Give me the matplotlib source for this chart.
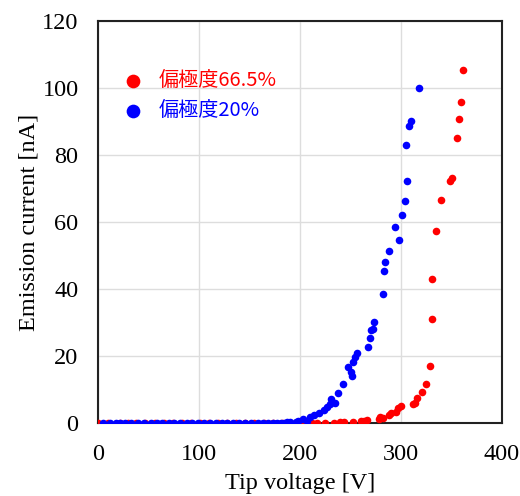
import matplotlib
matplotlib.use('Agg')
import matplotlib.pyplot as plt

# polarization 66.5% (red)
v_665 = [0, 10, 22, 30, 38, 47, 56, 65, 74, 83, 92, 101, 110, 119, 128, 137, 146, 155, 164, 173,
         182, 190, 198, 205, 212, 217, 225, 234, 240, 244, 253, 261, 263, 266, 278, 279, 282,
         288, 290, 295, 297, 300, 312, 314, 316, 321, 325, 329, 331, 331, 335, 340, 349, 351,
         356, 358, 360, 362]
i_665 = [0, 0, 0, 0, 0, 0, 0, 0, 0, 0, 0, 0, 0, 0, 0, 0, 0, 0, 0, 0,
         0, 0, 0, 0, 0, 0, 0.05, 0.1, 0.2, 0.4, 0.4, 0.5, 0.7, 0.8, 1.1, 1.9, 1.6,
         2.4, 2.9, 3.3, 4.4, 5.1, 5.8, 6.1, 7.4, 9.3, 11.5, 17.1, 31.0, 43.1, 57.3, 66.7, 72.3, 73.2,
         85.2, 90.7, 95.8, 105.4]

# polarization 20% (blue)
v_20 = [5, 12, 18, 22, 27, 33, 40, 46, 52, 58, 63, 70, 75, 81, 88, 93, 99, 105, 111, 117,
        123, 128, 134, 140, 146, 152, 158, 163, 168, 173, 177, 181, 184, 187, 190, 196, 198,
        203, 207, 210, 214, 219, 224, 227, 230, 231, 235, 238, 243, 248, 251, 252, 253, 255,
        257, 267, 269, 270, 272, 273, 282, 283, 284, 288, 294, 298, 301, 304, 305, 306, 308,
        310, 318]
i_20 = [0, 0, 0, 0, 0, 0, 0, 0, 0, 0, 0, 0, 0, 0, 0, 0, 0, 0, 0, 0,
        0, 0, 0, 0, 0, 0, 0, 0, 0, 0, 0.05, 0.1, 0.1, 0.2, 0.3, 0.3, 0.7,
        1.1, 0.7, 1.9, 2.4, 2.9, 3.9, 4.9, 5.7, 7.1, 6.1, 8.9, 11.5, 16.8, 15.3, 14.0, 18.3, 19.8,
        20.8, 22.8, 25.3, 27.8, 28.1, 30.2, 38.5, 45.3, 48.2, 51.4, 58.6, 54.7, 62.1, 66.2, 83.0, 72.2, 88.7,
        90.1, 100.0]

plt.rcParams['font.family'] = ['Liberation Serif', 'DejaVu Serif']

fig = plt.figure(figsize=(5.2, 4.96), dpi=100)
ax = fig.add_axes([0.1885, 0.1472, 0.7765, 0.8105])

ax.scatter(v_665, i_665, s=30, color='#ff0000', label='偏極度66.5%', zorder=3, linewidths=0)
ax.scatter(v_20, i_20, s=30, color='#0000ff', label='偏極度20%', zorder=3, linewidths=0)

ax.set_xlim(0, 400)
ax.set_ylim(0, 120)
ax.set_xticks([0, 100, 200, 300, 400])
ax.set_yticks([0, 20, 40, 60, 80, 100, 120])
ax.grid(True, color='#dddddd', linewidth=1)
ax.set_axisbelow(True)
ax.tick_params(length=0, labelsize=17.5)
ax.tick_params(axis='x', pad=15)
ax.tick_params(axis='y', pad=14)
for sp in ax.spines.values():
    sp.set_linewidth(1.5)
    sp.set_color('#222222')

ax.set_xlabel('Tip voltage [V]', fontsize=17.5, labelpad=6)
ax.set_ylabel('Emission current [nA]', fontsize=17.5, labelpad=2)

leg = ax.legend(loc='upper left', bbox_to_anchor=(0.062, 0.877), frameon=False,
                labelcolor='markerfacecolor', handlelength=1.0, handletextpad=0.75,
                labelspacing=0.45, borderpad=0, borderaxespad=0,
                prop={'family': ['Noto Sans CJK JP', 'DejaVu Sans'], 'size': 14.5},
                markerscale=1.8)

fig.savefig('out.png', dpi=100)
